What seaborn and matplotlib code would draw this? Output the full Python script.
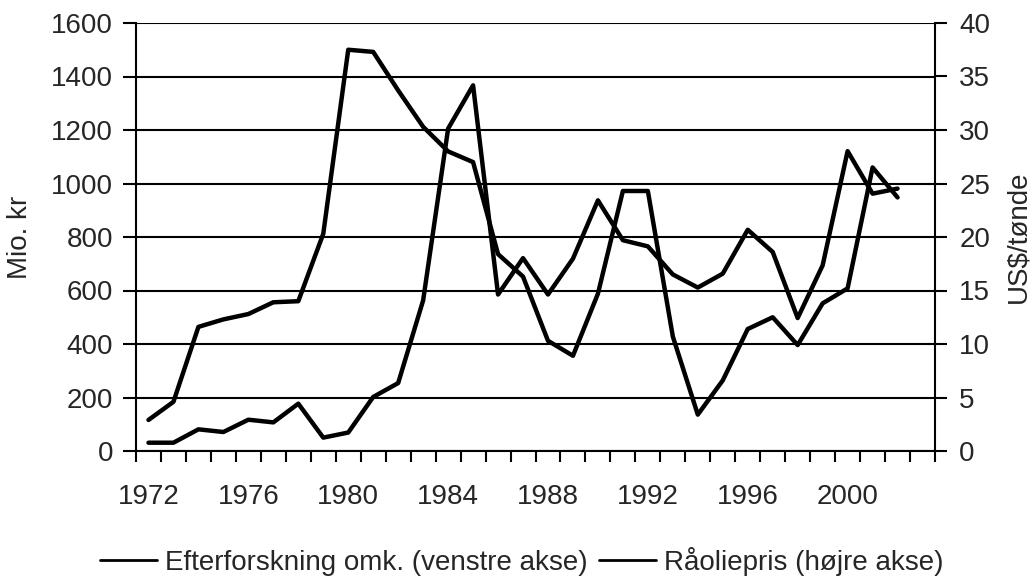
import matplotlib
matplotlib.use("Agg")
import matplotlib.pyplot as plt
from matplotlib.lines import Line2D
import seaborn as sns
import pandas as pd
import numpy as np

years = list(range(1972, 2003))
efterforskning = [31, 31, 81, 71, 117, 107, 177, 50, 69, 202, 254, 563, 1205, 1367,
                  585, 721, 585, 719, 937, 788, 765, 660, 611, 663, 827, 744, 497,
                  694, 1121, 962, 981]
raoliepris = [2.9, 4.6, 11.6, 12.3, 12.8, 13.9, 14.0, 20.3, 37.5, 37.3, 33.7, 30.3,
              28.0, 27.0, 18.4, 16.3, 10.3, 8.9, 14.7, 24.3, 24.3, 10.7, 3.4, 6.6,
              11.4, 12.5, 9.9, 13.8, 15.2, 26.5, 23.7]
label_years = [1972, 1976, 1980, 1984, 1988, 1992, 1996, 2000]
left_ticks = [0, 200, 400, 600, 800, 1000, 1200, 1400, 1600]
right_ticks = [0, 5, 10, 15, 20, 25, 30, 35, 40]
names = ["Efterforskning omk. (venstre akse)", "Råoliepris (højre akse)"]

sns.set_style("white")
plt.rcParams['font.family'] = ['Liberation Sans', 'DejaVu Sans']
FS = 20

df = pd.DataFrame({"year": years, "eft": efterforskning, "olie": raoliepris})

fig = plt.figure(figsize=(10.33, 5.81), dpi=100)
ax = fig.add_axes([136 / 1033, 1 - 451 / 581, (935 - 136) / 1033, (451 - 23) / 581])
ax2 = ax.twinx()

sns.lineplot(data=df, x="year", y="eft", ax=ax, color="black", linewidth=3.2,
             legend=False)
sns.lineplot(data=df, x="year", y="olie", ax=ax2, color="black", linewidth=3.2,
             legend=False)

ax.set_xlim(1971.5, 2003.5)
ax.set_ylim(0, 1600)
ax2.set_ylim(0, 40)
ax.set_yticks(left_ticks)
ax.set_yticklabels([str(v) for v in left_ticks])
ax2.set_yticks(right_ticks)
ax2.set_yticklabels([str(v) for v in right_ticks])

# Tick marks between categories, labels at category centers
ax.set_xticks(np.arange(1971.5, 2004.0, 1.0))
ax.set_xticklabels([])
ax.set_xticks(label_years, minor=True)
ax.set_xticklabels([str(y) for y in label_years], minor=True)
ax.tick_params(axis="x", which="major", direction="out", length=8, width=1.5,
               color="black", bottom=True)
ax.tick_params(axis="x", which="minor", length=0, pad=24, labelsize=FS)
ax.tick_params(axis="y", direction="out", length=9.5, width=1.5, color="black",
               left=True, labelsize=FS, pad=7)
ax2.tick_params(axis="y", direction="out", length=8.5, width=1.5, color="black",
                right=True, labelsize=FS, pad=9)

ax.yaxis.grid(True, color="black", linewidth=1.5)
ax.set_axisbelow(True)
ax.xaxis.grid(False)
ax2.grid(False)

for a in (ax, ax2):
    for s in a.spines.values():
        s.set_visible(False)
ax.spines["left"].set_visible(True)
ax.spines["bottom"].set_visible(True)
ax2.spines["right"].set_visible(True)
for a, side in ((ax, "left"), (ax, "bottom"), (ax2, "right")):
    a.spines[side].set_color("black")
    a.spines[side].set_linewidth(1.5)

ax.set_xlabel("")
ax.set_ylabel("Mio. kr", fontsize=FS, labelpad=13)
ax2.set_ylabel("US$/tønde", fontsize=FS, labelpad=11)

handles = [Line2D([], [], color="black", linewidth=2.0),
           Line2D([], [], color="black", linewidth=2.0)]
fig.legend(handles, names, loc="lower center", bbox_to_anchor=(0.505, -0.02),
           ncol=2, frameon=False, fontsize=FS, handlelength=2.05,
           handletextpad=0.3, columnspacing=0.4, borderaxespad=0.2)

fig.savefig("out.png", dpi=100)
